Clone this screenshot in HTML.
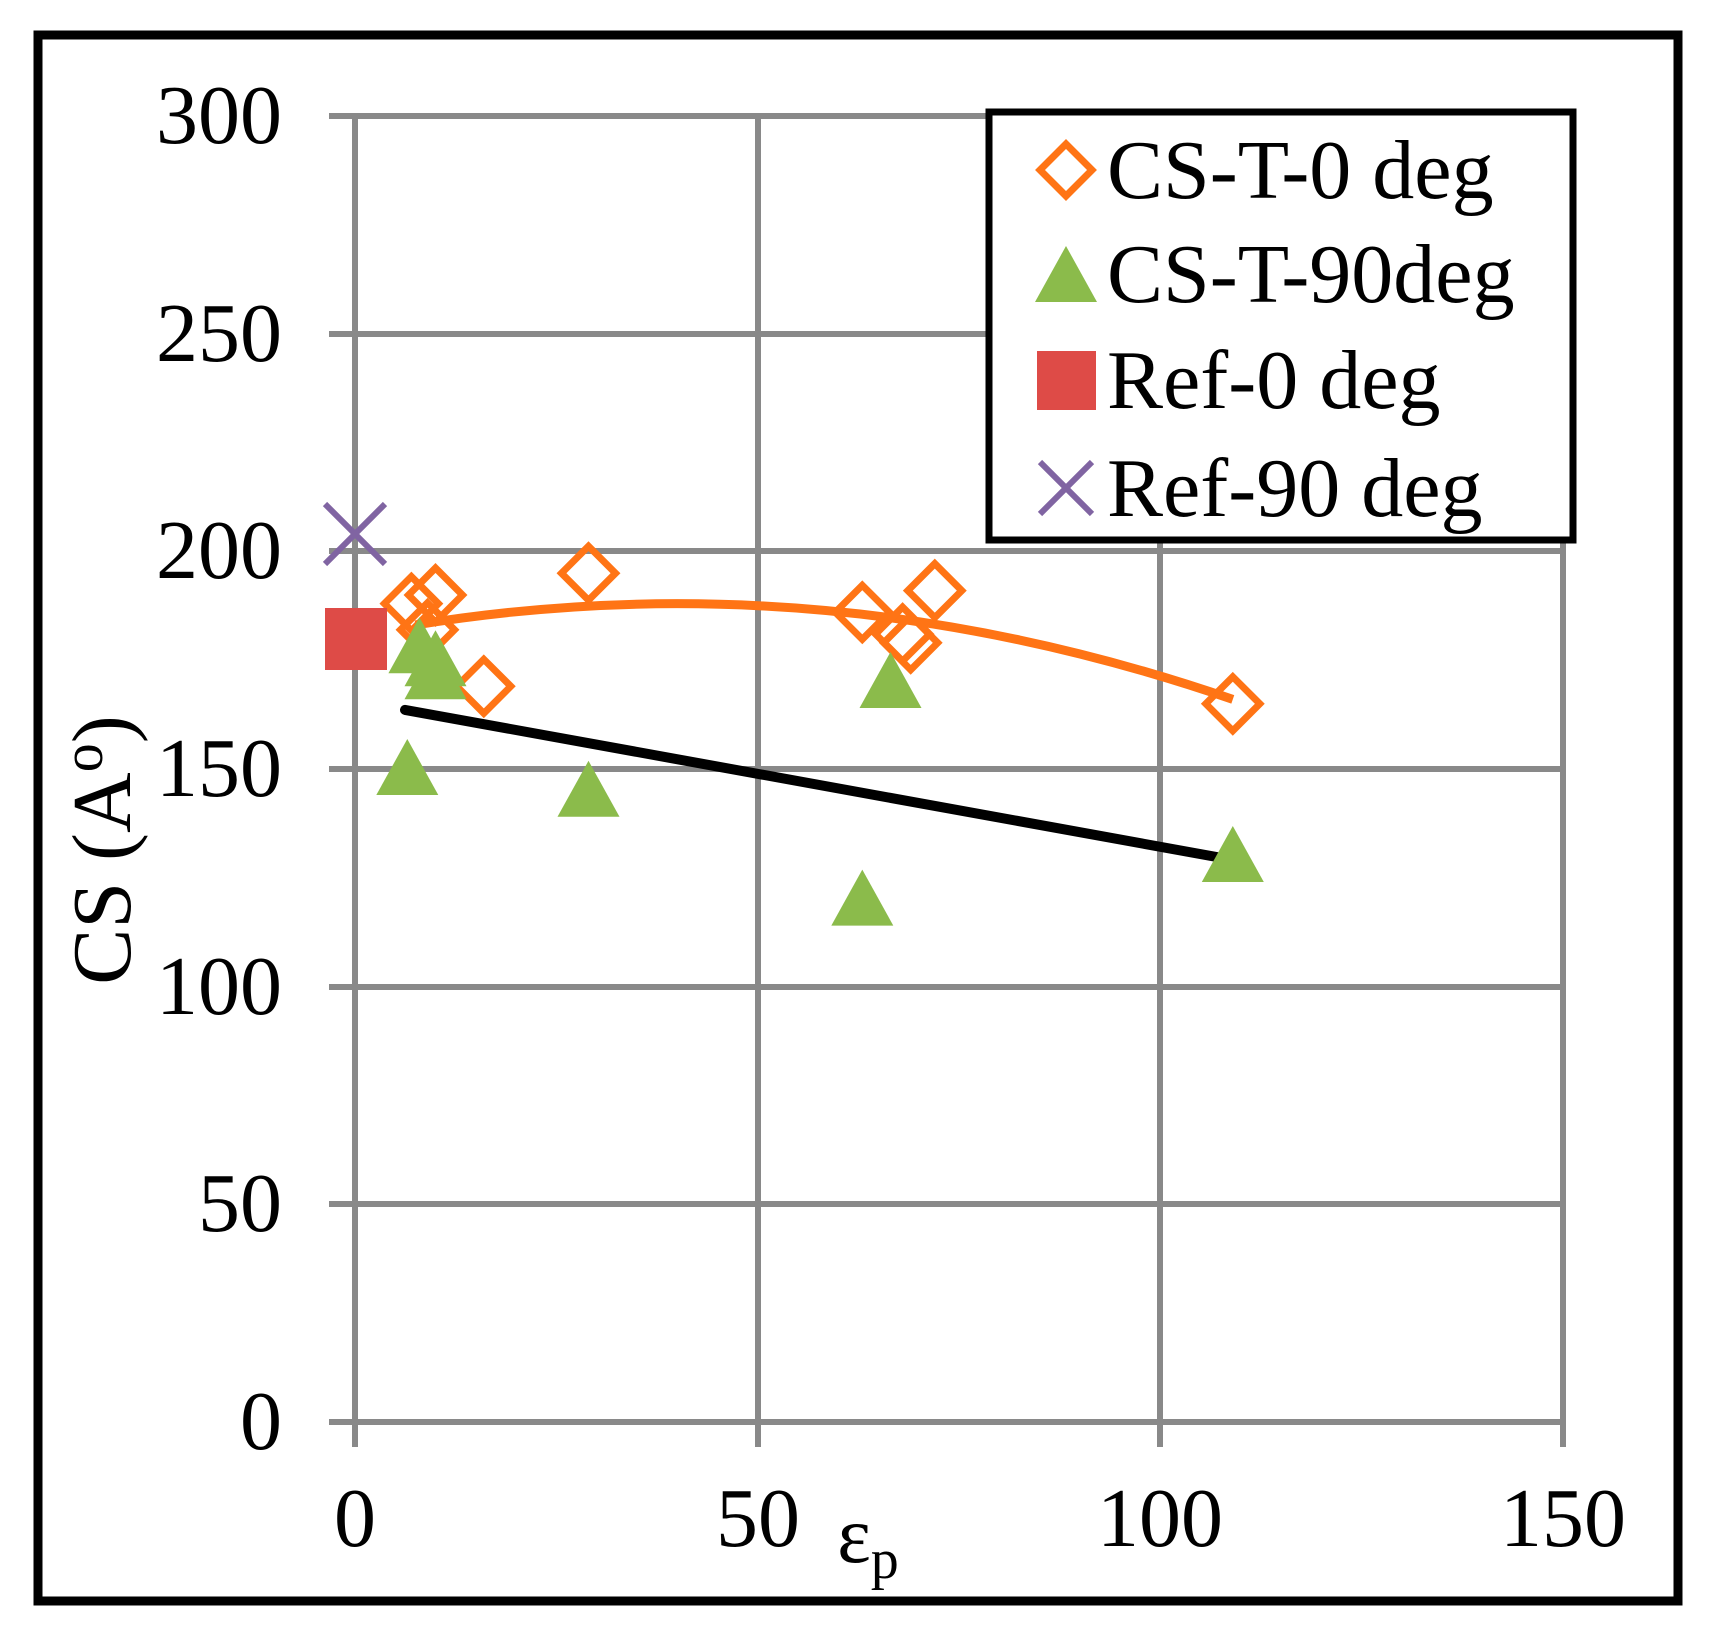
<!DOCTYPE html>
<html><head><meta charset="utf-8"><style>html,body{margin:0;padding:0;background:#fff}svg{display:block}</style></head>
<body>
<svg width="1715" height="1641" viewBox="0 0 1715 1641" xmlns="http://www.w3.org/2000/svg" font-family="'Liberation Serif', serif">
<defs>
<path id="dm" d="M0,-27 l27,27 -27,27 -27,-27z" fill="none" stroke="#FF7415" stroke-width="7"/>
<path id="tr" d="M0,-30 l31,56 h-62z" fill="#8BBB4B"/>
</defs>
<rect x="0" y="0" width="1715" height="1641" fill="#fff"/>
<rect x="38" y="35" width="1640" height="1566" fill="none" stroke="#000" stroke-width="9"/>
<g stroke="#898989" stroke-width="6" fill="none">
<line x1="329" y1="116" x2="1566" y2="116"/>
<line x1="329" y1="334" x2="1566" y2="334"/>
<line x1="329" y1="551" x2="1566" y2="551"/>
<line x1="329" y1="769" x2="1566" y2="769"/>
<line x1="329" y1="987" x2="1566" y2="987"/>
<line x1="329" y1="1204" x2="1566" y2="1204"/>
<line x1="329" y1="1422" x2="1566" y2="1422"/>
<line x1="355" y1="113" x2="355" y2="1447"/>
<line x1="758" y1="113" x2="758" y2="1447"/>
<line x1="1160" y1="113" x2="1160" y2="1447"/>
<line x1="1563" y1="113" x2="1563" y2="1447"/>
</g>
<g font-size="84" text-anchor="end" fill="#000">
<text x="282" y="143">300</text>
<text x="282" y="361">250</text>
<text x="282" y="578">200</text>
<text x="282" y="796">150</text>
<text x="282" y="1014">100</text>
<text x="282" y="1231">50</text>
<text x="282" y="1449">0</text>
</g>
<g font-size="84" text-anchor="middle" fill="#000">
<text x="355" y="1546">0</text>
<text x="758" y="1546">50</text>
<text x="1160" y="1546">100</text>
<text x="1563" y="1546">150</text>
</g>
<text x="868" y="1562" font-size="80" text-anchor="middle">ε<tspan font-size="56" dy="16">p</tspan></text>
<text transform="translate(130,850) rotate(-90)" font-size="84" text-anchor="middle">CS (A<tspan font-size="58" dy="-28">o</tspan><tspan dy="28">)</tspan></text>
<path d="M415.4,624.9 Q824.1,558.6 1232.8,699.4" fill="none" stroke="#FF7415" stroke-width="9"/>
<line x1="405" y1="709.9" x2="1236" y2="860.5" stroke="#000" stroke-width="10" stroke-linecap="round"/>
<use href="#dm" x="411.4" y="603.6"/>
<use href="#dm" x="435.5" y="595"/>
<use href="#dm" x="427.5" y="629.8"/>
<use href="#dm" x="483.8" y="686.3"/>
<use href="#dm" x="588.5" y="573.2"/>
<use href="#dm" x="862.3" y="612.3"/>
<use href="#dm" x="902.6" y="634.1"/>
<use href="#dm" x="910.7" y="642.8"/>
<use href="#dm" x="934.8" y="590.6"/>
<use href="#dm" x="1232.8" y="703.8"/>
<use href="#tr" x="419.4" y="647.2"/>
<use href="#tr" x="435.5" y="660.2"/>
<use href="#tr" x="435.5" y="673.3"/>
<use href="#tr" x="407.3" y="769"/>
<use href="#tr" x="588.5" y="790.8"/>
<use href="#tr" x="890.5" y="682"/>
<use href="#tr" x="862.3" y="899.6"/>
<use href="#tr" x="1232.8" y="856"/>
<rect x="325" y="608" width="62" height="62" fill="#DE4B47"/>
<g stroke="#8064A2" stroke-width="6">
<line x1="325" y1="504" x2="385" y2="564"/><line x1="385" y1="504" x2="325" y2="564"/>
</g>
<rect x="989" y="112" width="584" height="428" fill="#fff" stroke="#000" stroke-width="7"/>
<path d="M1066,144 l26,26 -26,26 -26,-26z" fill="none" stroke="#FF7415" stroke-width="7"/>
<path d="M1066,246 l31,56 h-62z" fill="#8BBB4B"/>
<rect x="1037" y="351" width="59" height="59" fill="#DE4B47"/>
<g stroke="#8064A2" stroke-width="6"><line x1="1040" y1="462" x2="1092" y2="514"/><line x1="1092" y1="462" x2="1040" y2="514"/></g>
<g font-size="84" fill="#000">
<text x="1107" y="198">CS-T-0 deg</text>
<text x="1107" y="302">CS-T-90deg</text>
<text x="1107" y="408">Ref-0 deg</text>
<text x="1107" y="516">Ref-90 deg</text>
</g>
</svg>
</body></html>
